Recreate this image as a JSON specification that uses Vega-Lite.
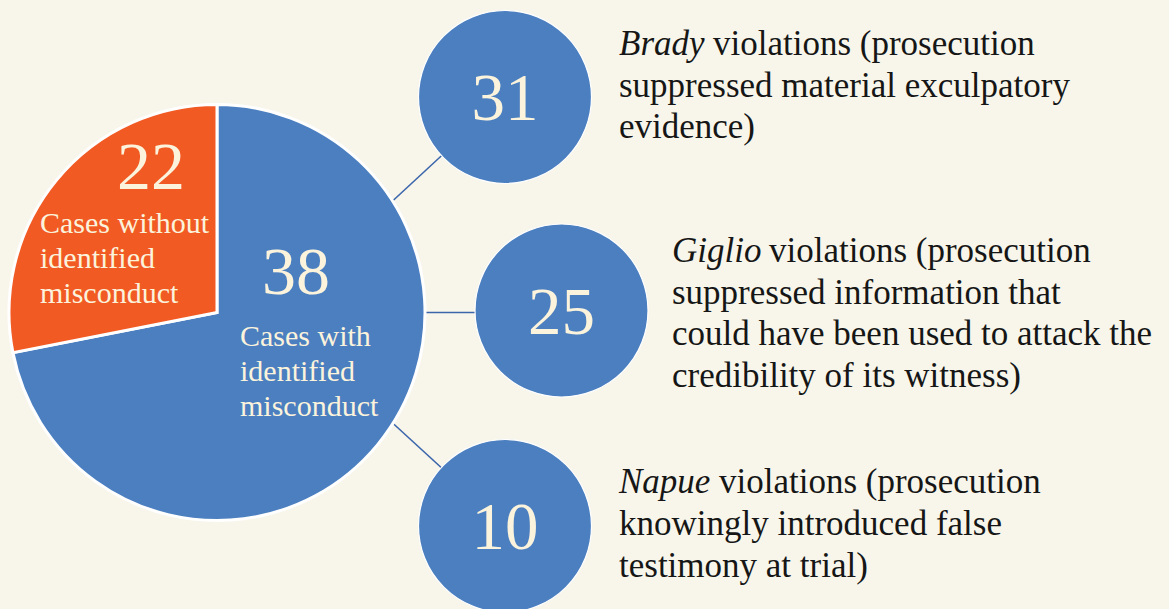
{
  "$schema": "https://vega.github.io/schema/vega-lite/v6.json",
  "width": 1169,
  "height": 609,
  "padding": 0,
  "autosize": {"type": "none"},
  "background": "#f8f6eb",
  "config": {
    "view": {"stroke": null},
    "axis": {"disable": true},
    "legend": {"disable": true},
    "text": {"font": "Liberation Serif"}
  },
  "datasets": {
    "slices": [
      {"item": 0, "status": "Cases with identified misconduct", "label": "Cases with\nidentified\nmisconduct", "count": 38},
      {"item": 0, "status": "Cases without identified misconduct", "label": "Cases without\nidentified\nmisconduct", "count": 22}
    ],
    "violations": [
      {"item": 1, "case": "Brady", "count": 31, "first": "violations (prosecution", "rest": "suppressed material exculpatory\nevidence)"},
      {"item": 2, "case": "Giglio", "count": 25, "first": "violations (prosecution", "rest": "suppressed information that\ncould have been used to attack the\ncredibility of its witness)"},
      {"item": 3, "case": "Napue", "count": 10, "first": "violations (prosecution", "rest": "knowingly introduced false\ntestimony at trial)"}
    ]
  },
  "resolve": {"scale": {"x": "independent", "y": "independent"}},
  "layer": [
    {
      "data": {"name": "violations"},
      "mark": {"type": "rule", "color": "#3c66ab", "strokeWidth": 1.5},
      "encoding": {
        "x": {"field": "item", "type": "quantitative", "scale": {"domain": [0, 1, 2, 3], "range": [272, 505, 561.5, 505], "nice": false, "zero": false}},
        "y": {"field": "item", "type": "quantitative", "scale": {"domain": [0, 1, 2, 3], "range": [312.5, 97, 312.5, 526], "nice": false, "zero": false}},
        "x2": {"datum": 0},
        "y2": {"datum": 0}
      }
    },
    {
      "data": {"name": "slices"},
      "mark": {"type": "arc", "outerRadius": 208, "stroke": "#ffffff", "strokeWidth": 3},
      "encoding": {
        "theta": {"field": "count", "type": "quantitative", "stack": true, "scale": {"type": "pow", "exponent": 0.722}},
        "order": {"field": "count", "type": "quantitative", "sort": "descending"},
        "color": {"field": "status", "type": "nominal", "scale": {"domain": ["Cases with identified misconduct", "Cases without identified misconduct"], "range": ["#4b7fc0", "#f25a24"]}, "legend": null},
        "x": {"field": "item", "type": "quantitative", "scale": {"domain": [0, 1, 2, 3], "range": [217, 505, 561.5, 505], "nice": false, "zero": false}},
        "y": {"field": "item", "type": "quantitative", "scale": {"domain": [0, 1, 2, 3], "range": [312.5, 97, 310.5, 526], "nice": false, "zero": false}}
      }
    },
    {
      "data": {"name": "violations"},
      "mark": {"type": "point", "shape": "circle", "filled": true, "size": 29929, "color": "#4b7fc0", "opacity": 1, "stroke": "#ffffff", "strokeWidth": 1.2},
      "encoding": {
        "x": {"field": "item", "type": "quantitative", "scale": {"domain": [0, 1, 2, 3], "range": [217, 505, 561.5, 505], "nice": false, "zero": false}},
        "y": {"field": "item", "type": "quantitative", "scale": {"domain": [0, 1, 2, 3], "range": [312.5, 97, 310.5, 526], "nice": false, "zero": false}}
      }
    },
    {
      "data": {"name": "violations"},
      "mark": {"type": "text", "fontSize": 67, "color": "#fbf3dc", "align": "center", "baseline": "middle"},
      "encoding": {
        "text": {"field": "count", "type": "quantitative"},
        "x": {"field": "item", "type": "quantitative", "scale": {"domain": [0, 1, 2, 3], "range": [217, 505, 561.5, 505], "nice": false, "zero": false}},
        "y": {"field": "item", "type": "quantitative", "scale": {"domain": [0, 1, 2, 3], "range": [312.5, 100, 313.5, 529], "nice": false, "zero": false}}
      }
    },
    {
      "data": {"name": "slices"},
      "mark": {"type": "text", "fontSize": 30, "color": "#fbf3dc", "align": "left", "baseline": "alphabetic", "lineBreak": "\n", "lineHeight": 35},
      "encoding": {
        "text": {"field": "label", "type": "nominal"},
        "x": {"field": "status", "type": "nominal", "scale": {"type": "point", "domain": ["Cases with identified misconduct", "Cases without identified misconduct"], "range": [240, 40], "padding": 0}},
        "y": {"field": "status", "type": "nominal", "scale": {"type": "point", "domain": ["Cases with identified misconduct", "Cases without identified misconduct"], "range": [346, 233], "padding": 0}}
      }
    },
    {
      "data": {"name": "slices"},
      "mark": {"type": "text", "fontSize": 68, "color": "#fbf3dc", "align": "center", "baseline": "middle"},
      "encoding": {
        "text": {"field": "count", "type": "quantitative"},
        "x": {"field": "status", "type": "nominal", "scale": {"type": "point", "domain": ["Cases with identified misconduct", "Cases without identified misconduct"], "range": [296, 151], "padding": 0}},
        "y": {"field": "status", "type": "nominal", "scale": {"type": "point", "domain": ["Cases with identified misconduct", "Cases without identified misconduct"], "range": [274, 169], "padding": 0}}
      }
    },
    {
      "data": {"name": "violations"},
      "mark": {"type": "text", "fontSize": 35, "fontStyle": "italic", "color": "#161616", "align": "left", "baseline": "alphabetic"},
      "encoding": {
        "text": {"field": "case", "type": "nominal"},
        "x": {"field": "item", "type": "quantitative", "scale": {"domain": [1, 2, 3], "range": [619, 672, 619], "nice": false, "zero": false}},
        "y": {"field": "item", "type": "quantitative", "scale": {"domain": [1, 2, 3], "range": [55, 262, 493], "nice": false, "zero": false}}
      }
    },
    {
      "data": {"name": "violations"},
      "mark": {"type": "text", "fontSize": 35, "color": "#161616", "align": "left", "baseline": "alphabetic"},
      "encoding": {
        "text": {"field": "first", "type": "nominal"},
        "x": {"field": "item", "type": "quantitative", "scale": {"domain": [1, 2, 3], "range": [713, 769, 719], "nice": false, "zero": false}},
        "y": {"field": "item", "type": "quantitative", "scale": {"domain": [1, 2, 3], "range": [55, 262, 493], "nice": false, "zero": false}}
      }
    },
    {
      "data": {"name": "violations"},
      "mark": {"type": "text", "fontSize": 35, "color": "#161616", "align": "left", "baseline": "alphabetic", "lineBreak": "\n", "lineHeight": 41.5},
      "encoding": {
        "text": {"field": "rest", "type": "nominal"},
        "x": {"field": "item", "type": "quantitative", "scale": {"domain": [1, 2, 3], "range": [619, 672, 619], "nice": false, "zero": false}},
        "y": {"field": "item", "type": "quantitative", "scale": {"domain": [1, 2, 3], "range": [96.5, 303.5, 535], "nice": false, "zero": false}}
      }
    }
  ]
}
